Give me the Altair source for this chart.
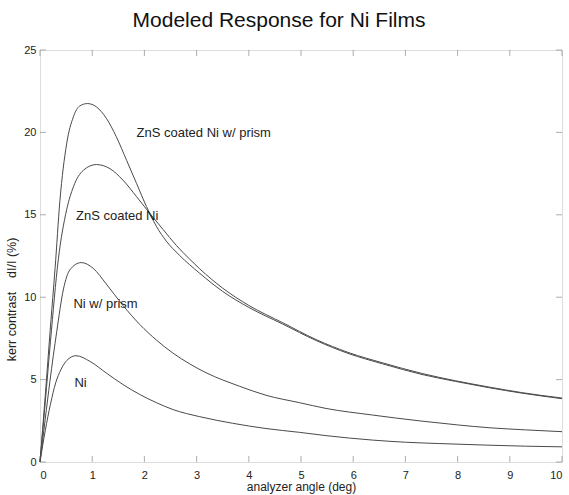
import altair as alt
import pandas as pd

# ---- data ----
zns_prism_x = [0, 0.1, 0.2, 0.29, 0.38, 0.51, 0.64, 0.76, 0.91, 1.08, 1.27, 1.46, 1.66, 1.85, 2.04,
               2.23, 2.42, 2.67, 3.06, 3.5, 4.0, 4.65, 5.29, 5.92, 6.56, 7.32, 7.96, 8.6, 9.23, 10]
zns_prism_y = [0, 4.0, 8.2, 11.8, 15.8, 19.3, 20.95, 21.6, 21.75, 21.55, 20.86, 19.75, 18.3, 16.9, 15.5,
               14.3, 13.4, 12.55, 11.45, 10.35, 9.38, 8.37, 7.37, 6.57, 5.96, 5.31, 4.89, 4.51, 4.18, 3.84]

zns_x = [0, 0.1, 0.2, 0.35, 0.51, 0.64, 0.83, 1.08, 1.34, 1.59, 1.85, 2.1, 2.36, 2.61, 2.87,
         3.06, 3.5, 4.0, 4.65, 5.29, 5.92, 6.56, 7.32, 7.96, 8.6, 9.23, 10]
zns_y = [0, 3.6, 7.3, 12.27, 15.3, 16.7, 17.7, 18.05, 17.8, 17.1, 16.1, 15.1, 14.1, 13.15, 12.3,
         11.72, 10.55, 9.5, 8.45, 7.43, 6.63, 6.02, 5.37, 4.93, 4.55, 4.21, 3.88]

ni_prism_x = [0, 0.1, 0.19, 0.32, 0.45, 0.57, 0.79, 1.02, 1.27, 1.59, 1.91, 2.23, 2.55, 2.87, 3.18,
              3.82, 4.33, 4.97, 5.48, 6.37, 7.26, 8.0, 8.6, 9.3, 10]
ni_prism_y = [0, 2.6, 4.9, 7.9, 10.5, 11.65, 12.1, 11.75, 10.8, 9.5, 8.35, 7.4, 6.6, 5.95, 5.42,
              4.6, 4.05, 3.6, 3.25, 2.85, 2.5, 2.25, 2.08, 1.95, 1.84]

ni_x = [0, 0.1, 0.2, 0.3, 0.4, 0.51, 0.69, 0.96, 1.27, 1.59, 1.91, 2.23, 2.55, 3.06, 3.69,
        4.33, 4.97, 5.48, 6.37, 7.0, 7.64, 8.6, 9.3, 10]
ni_y = [0, 1.9, 3.5, 4.8, 5.6, 6.15, 6.45, 6.1, 5.4, 4.7, 4.1, 3.6, 3.18, 2.75, 2.35,
        2.03, 1.8, 1.6, 1.33, 1.2, 1.12, 1.02, 0.96, 0.92]

label_text = ["ZnS coated Ni w/ prism", "ZnS coated Ni", "Ni w/ prism", "Ni"]
label_x = [1.85, 0.69, 0.64, 0.66]
label_y = [19.95, 14.9, 9.6, 4.8]

x_ticks = [0, 1, 2, 3, 4, 5, 6, 7, 8, 9, 10]
y_ticks = [0, 5, 10, 15, 20, 25]

# ---- tables ----
rows = []
for name, xs, ys in [("ZnS coated Ni w/ prism", zns_prism_x, zns_prism_y),
                     ("ZnS coated Ni", zns_x, zns_y),
                     ("Ni w/ prism", ni_prism_x, ni_prism_y),
                     ("Ni", ni_x, ni_y)]:
    for i, (a, b) in enumerate(zip(xs, ys)):
        rows.append({"series": name, "angle": a, "contrast": b, "order": i})
df = pd.DataFrame(rows)
labels = pd.DataFrame({"text": label_text, "x": label_x, "y": label_y})
xt = pd.DataFrame({"t": x_ticks})
yt = pd.DataFrame({"t": y_ticks})

W, H = 522, 412
FONT = "Liberation Sans"
FRAME = "#8a8a8a"
NB = "\u00a0"

xscale = alt.Scale(domain=[0, 10], nice=False, zero=False)
yscale = alt.Scale(domain=[0, 25], nice=False, zero=False)

xaxis = alt.Axis(values=x_ticks, ticks=False, domain=False, grid=False, labelPadding=7,
                 labelFontSize=11, labelFont=FONT, labelColor="#222",
                 title="analyzer angle (deg)", titleFont=FONT, titleFontSize=12,
                 titleFontWeight="normal", titleColor="#222", titleY=19,
                 titleBaseline="top")
yaxis = alt.Axis(values=y_ticks, ticks=False, domain=False, grid=False, labelPadding=4,
                 labelFontSize=11, labelFont=FONT, labelColor="#222",
                 title="kerr contrast" + NB * 4 + "dI/I (%)", titleFont=FONT, titleFontSize=12.5,
                 titleFontWeight="normal", titleColor="#222", titleX=-22, titleY=249,
                 titleBaseline="bottom")

lines = alt.Chart(df).mark_line(color="#4a4a4a", strokeWidth=1.0, interpolate="monotone").encode(
    x=alt.X("angle:Q", scale=xscale, axis=xaxis),
    y=alt.Y("contrast:Q", scale=yscale, axis=yaxis),
    detail="series:N",
    order="order:Q",
)

text = alt.Chart(labels).mark_text(align="left", baseline="middle", font=FONT, fontSize=13,
                                   color="#222").encode(
    x=alt.X("x:Q", scale=xscale),
    y=alt.Y("y:Q", scale=yscale),
    text="text:N",
)

tick_len = 6
bottom_ticks = alt.Chart(xt).mark_tick(color=FRAME, size=tick_len, thickness=1, orient="vertical").encode(
    x=alt.X("t:Q", scale=xscale), y=alt.value(H - tick_len / 2))
top_ticks = alt.Chart(xt).mark_tick(color=FRAME, size=tick_len, thickness=1, orient="vertical").encode(
    x=alt.X("t:Q", scale=xscale), y=alt.value(tick_len / 2))
left_ticks = alt.Chart(yt).mark_tick(color=FRAME, size=tick_len, thickness=1, orient="horizontal").encode(
    y=alt.Y("t:Q", scale=yscale), x=alt.value(tick_len / 2))
right_ticks = alt.Chart(yt).mark_tick(color=FRAME, size=tick_len, thickness=1, orient="horizontal").encode(
    y=alt.Y("t:Q", scale=yscale), x=alt.value(W - tick_len / 2))

chart = alt.layer(bottom_ticks, top_ticks, left_ticks, right_ticks, lines, text).properties(
    width=W, height=H,
    padding={"left": 40, "top": 50, "right": 7, "bottom": 33},
    autosize=alt.AutoSizeParams(type="none"),
    title=alt.TitleParams("Modeled Response for Ni Films", font=FONT, fontSize=21,
                          fontWeight="normal", color="#111", anchor="middle", dx=-22,
                          offset=13),
).configure_view(stroke=FRAME, strokeWidth=1.2).configure(background="white")

chart.save("out.html", embed_options={"renderer": "svg", "actions": False})
